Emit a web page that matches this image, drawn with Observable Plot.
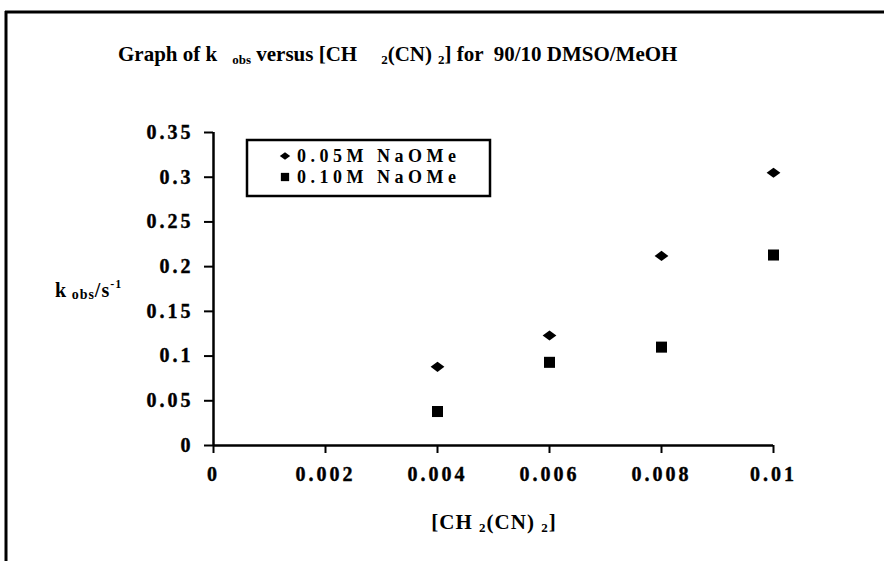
<!DOCTYPE html>
<html><head><meta charset="utf-8">
<script src="https://cdn.jsdelivr.net/npm/d3@7"></script>
<script src="https://cdn.jsdelivr.net/npm/@observablehq/plot@0.6"></script>
<style>
body{margin:0;background:#fff;}
#chart{position:relative;width:884px;height:561px;}
svg text{font-family:"Liberation Serif","Times New Roman",serif;font-weight:bold;white-space:pre;}
</style></head>
<body><div id="chart"></div>
<script>
// ---- data ----
const concentrations = [0.004, 0.006, 0.008, 0.01];
const naome005 = [0.088, 0.123, 0.212, 0.305];
const naome010 = [0.038, 0.093, 0.110, 0.213];
const seriesNames = ["0.05M NaOMe", "0.10M NaOMe"];
const xTicks = [0, 0.002, 0.004, 0.006, 0.008, 0.01];
const xTickLabels = ["0", "0.002", "0.004", "0.006", "0.008", "0.01"];
const yTicks = [0, 0.05, 0.1, 0.15, 0.2, 0.25, 0.3, 0.35];
const yTickLabels = ["0", "0.05", "0.1", "0.15", "0.2", "0.25", "0.3", "0.35"];

const rows = [];
concentrations.forEach((c, i) => {
  rows.push({x: c, y: naome005[i], s: seriesNames[0]});
  rows.push({x: c, y: naome010[i], s: seriesNames[1]});
});

// custom symbols
const wideDiamond = {draw(ctx, size){const r=Math.sqrt(size/Math.PI);const w=r*1.15,h=r*0.85;ctx.moveTo(0,-h);ctx.lineTo(w,0);ctx.lineTo(0,h);ctx.lineTo(-w,0);ctx.closePath();}};
const squareSym = {draw(ctx, size){const r=Math.sqrt(size/Math.PI);const a=r*0.92;ctx.rect(-a,-a,2*a,2*a);}};

const W = 884, H = 561;
const plot = Plot.plot({
  width: W, height: H,
  marginLeft: 213, marginRight: 111, marginTop: 132, marginBottom: 116,
  style: {background: "#fff", color: "#000"},
  x: {domain: [0, 0.01]},
  y: {domain: [0, 0.35]},
  symbol: {domain: seriesNames, range: [wideDiamond, squareSym]},
  marks: [
    Plot.axisX({ticks: xTicks, tickFormat: (d) => xTickLabels[xTicks.indexOf(d)], tickSize: 8, tickPadding: 13, strokeWidth: 2, fontSize: 20, label: null}),
    Plot.axisY({ticks: yTicks, tickFormat: (d) => yTickLabels[yTicks.findIndex(t => Math.abs(t - d) < 1e-9)], tickSize: 9, tickPadding: 11, strokeWidth: 2, fontSize: 20, label: null}),
    Plot.ruleY([0], {stroke: "#000", strokeWidth: 2.5}),
    Plot.ruleX([0], {stroke: "#000", strokeWidth: 2.5}),
    Plot.dot(rows, {x: "x", y: "y", symbol: "s", r: 6, fill: "#000", stroke: "none"})
  ]
});
document.getElementById("chart").appendChild(plot);

const svg = d3.select(plot);
svg.selectAll("g[aria-label='x-axis tick label'] text, g[aria-label='y-axis tick label'] text")
  .style("letter-spacing", "3px").style("font-weight", "bold")
  .style("stroke", "#000").style("stroke-width", "0.4px");

// frame lines
svg.append("line").attr("x1", 5).attr("x2", W).attr("y1", 12).attr("y2", 12).attr("stroke", "#000").attr("stroke-width", 3);
svg.append("line").attr("x1", 6).attr("x2", 6).attr("y1", 11).attr("y2", H).attr("stroke", "#000").attr("stroke-width", 3);

// title
const t = svg.append("text").attr("x", 118).attr("y", 61).attr("font-size", 21).attr("text-anchor", "start");
t.append("tspan").text("Graph of k");
t.append("tspan").attr("dx", 15).attr("font-size", 13).attr("dy", 3).text("obs");
t.append("tspan").attr("dy", -3).text(" versus [CH");
t.append("tspan").attr("dx", 24).attr("font-size", 13).attr("dy", 3).text("2");
t.append("tspan").attr("dy", -3).text("(CN)");
t.append("tspan").attr("dx", 6).attr("font-size", 13).attr("dy", 3).text("2");
t.append("tspan").attr("dy", -3).text("] for  90/10 DMSO/MeOH");

// y label
const yl = svg.append("text").attr("x", 55).attr("y", 297).attr("font-size", 20).attr("text-anchor", "start").style("letter-spacing", "1px");
yl.append("tspan").text("k");
yl.append("tspan").attr("font-size", 14).attr("dy", 2).text(" obs");
yl.append("tspan").attr("dy", -2).text("/s");
yl.append("tspan").attr("font-size", 12).attr("dy", -9).text("-1");

// x label
const xl = svg.append("text").attr("x", 494).attr("y", 529).attr("font-size", 21).attr("text-anchor", "middle").style("letter-spacing", "1px");
xl.append("tspan").text("[CH ");
xl.append("tspan").attr("font-size", 13).attr("dy", 3).text("2");
xl.append("tspan").attr("dy", -3).text("(CN) ");
xl.append("tspan").attr("font-size", 13).attr("dy", 3).text("2");
xl.append("tspan").attr("dy", -3).text("]");

// legend
const lg = svg.append("g");
lg.append("rect").attr("x", 247).attr("y", 140).attr("width", 243).attr("height", 56)
  .attr("fill", "#fff").attr("stroke", "#000").attr("stroke-width", 2.5);
const legSyms = [wideDiamond, squareSym];
seriesNames.forEach((name, i) => {
  const cy = 156 + i * 21;
  lg.append("path").attr("transform", `translate(285,${cy})`)
    .attr("d", d3.symbol(legSyms[i], Math.PI * 4.5 * 4.5)()).attr("fill", "#000");
  lg.append("text").attr("x", 297).attr("y", cy + 6).attr("font-size", 18).attr("text-anchor", "start")
    .style("letter-spacing", "4.5px").text(name);
});
</script>
</body></html>
